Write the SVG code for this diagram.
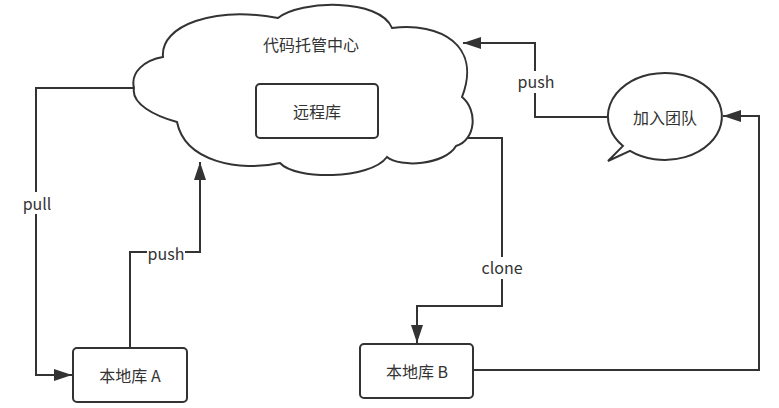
<svg xmlns="http://www.w3.org/2000/svg" width="779" height="408" viewBox="0 0 779 408">
<style>
.shape{fill:#fff;stroke:#333;stroke-width:2}
.edge{fill:none;stroke:#333;stroke-width:2}
.t{font-family:"Noto Sans CJK SC","Noto Sans",sans-serif;font-size:16px;fill:#333;text-anchor:middle;dominant-baseline:central}
.lbl{fill:#fff}
</style>
<defs>
<marker id="arr" markerUnits="userSpaceOnUse" markerWidth="20" markerHeight="14" refX="18" refY="6" orient="auto" viewBox="0 0 20 12">
<path d="M0,0 L18,6 L0,12 Z" fill="#333"/>
</marker>
</defs>
<rect width="779" height="408" fill="#fff"/>
<g id="edges">
<path class="edge" d="M134,88 H36 V375 H72" marker-end="url(#arr)"/>
<path class="edge" d="M130,348 V252 H200 V162" marker-end="url(#arr)"/>
<path class="edge" d="M608,117 H535 V43 H463" marker-end="url(#arr)"/>
<path class="edge" d="M467,138 H502 V306 H417 V343" marker-end="url(#arr)"/>
<path class="edge" d="M473,370 H759 V116 H723" marker-end="url(#arr)"/>
<rect class="lbl" x="22" y="192" width="30" height="22"/>
<text class="t" x="37" y="203">pull</text>
<rect class="lbl" x="147" y="242" width="38" height="22"/>
<text class="t" x="166" y="253">push</text>
<rect class="lbl" x="517" y="71" width="38" height="22"/>
<text class="t" x="536" y="81">push</text>
<rect class="lbl" x="481" y="257" width="42" height="22"/>
<text class="t" x="502" y="267">clone</text>
</g>
<g id="cloud">
<path class="shape" d="M134,88 C130,72 145,60 163,57 C160,25 215,6 278,18 C300,0 380,-2 392,28 C440,22 482,45 462,97 C478,110 476,140 456,146 C445,165 400,168 387,157 C370,180 295,180 280,163 C240,172 185,162 177,122 C155,116 131,104 134,88 Z"/>
<text class="t" x="311" y="44">代码托管中心</text>
</g>
<g id="remote">
<rect class="shape" x="256" y="84" width="122" height="54" rx="4"/>
<text class="t" x="317" y="111">远程库</text>
</g>
<g id="team">
<path class="shape" d="M623,145.9 A57,43.5 0 1,1 630,150.8 L608,161 Z"/>
<text class="t" x="665" y="117">加入团队</text>
</g>
<g id="localA">
<rect class="shape" x="73" y="348" width="114" height="54" rx="4"/>
<text class="t" x="130" y="375">本地库 A</text>
</g>
<g id="localB">
<rect class="shape" x="360" y="344" width="113" height="54" rx="4"/>
<text class="t" x="417" y="371">本地库 B</text>
</g>
</svg>
